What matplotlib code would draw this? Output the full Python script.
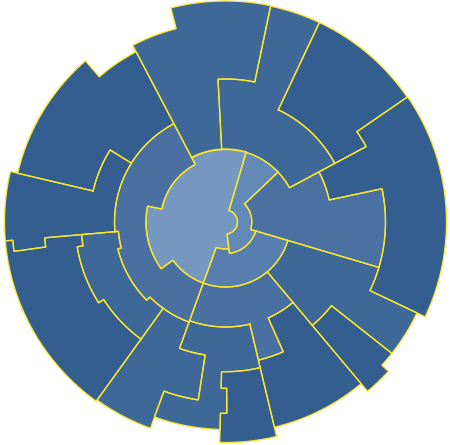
import numpy as np
import matplotlib
matplotlib.use("Agg")
import matplotlib.pyplot as plt

# ---- data: each region's outline as (angle in degrees clockwise from north, radius) corners ----
region_names = ["L", "I2", "R2a", "R2b", "C", "S0",
                "T", "T2", "SE1", "D", "SW1", "SW2",
                "U", "W1", "W2", "NE", "E", "SE2", "SE3", "SB"]

region_colors = {
    "L": "#7698c0", "I2": "#6389b7", "R2a": "#4b71a3", "R2b": "#587eaf",
    "C": "#4a70a2", "S0": "#4a70a2",
    "T": "#3e6898", "T2": "#3e6898", "SE1": "#3e6898", "D": "#3e6898",
    "SW1": "#3e6898", "SW2": "#3e6898",
    "U": "#335e8f", "W1": "#335e8f", "W2": "#335e8f", "NE": "#335e8f",
    "E": "#335e8f", "SE2": "#335e8f", "SE3": "#335e8f", "SB": "#335e8f",
}

L = [(16.5, 73), (16.5, 12), (173, 12), (173, 27), (200, 27), (200, 65), (234, 65),
     (234, 79.5), (281.5, 79.5), (281.5, 65), (332.3, 65), (332.3, 73), (376.5, 73)]
I2 = [(16.5, 12), (16.5, 72.5), (46.5, 72.5), (46.5, 26.3), (106.5, 26.3), (106.5, 31.5),
      (173, 31.5), (173, 12), (16.5, 12)]
R2a = [(46.5, 26.3), (46.5, 72.5), (61.8, 72.5), (61.8, 106), (78, 106), (78, 160),
       (106.5, 160), (106.5, 26.3), (46.5, 26.3)]
R2b = [(106.5, 31.5), (106.5, 65), (200, 65), (200, 27), (173, 27), (173, 31.5), (106.5, 31.5)]
C = [(200, 65), (200, 106.5), (225.2, 106.5), (225.2, 111), (256, 111), (256, 107.5),
     (265, 107.5), (265, 111), (332.3, 111), (332.3, 65), (281.5, 65), (281.5, 79.5),
     (234, 79.5), (234, 65), (200, 65)]
S0 = [(140, 65), (140, 105), (156, 105), (156, 142), (166.6, 142), (166.6, 105),
      (200, 105), (200, 65), (140, 65)]
T = [(332.3, 72.5), (332.3, 199.5), (345.7, 199.5), (345.7, 221), (371.8, 221),
     (371.8, 143), (357, 143), (357, 72.5), (332.3, 72.5)]
T2 = [(357, 72.5), (357, 143), (371.8, 143), (371.8, 220.5), (385.2, 220.5), (385.2, 124),
      (421.8, 124), (421.8, 72.5), (357, 72.5)]
SE1 = [(106.5, 65), (106.5, 160), (115.4, 160), (115.4, 212), (128.3, 212), (128.3, 135),
       (140, 135), (140, 65), (106.5, 65)]
D = [(215.8, 106.5), (215.8, 144.4), (237.5, 144.4), (237.5, 150.4), (260.5, 150.4),
     (260.5, 144.5), (265, 144.5), (265, 107.5), (256, 107.5), (256, 111), (225.2, 111),
     (225.2, 106.5), (215.8, 106.5)]
SW1 = [(166.6, 105), (166.6, 149.7), (181.5, 149.7), (181.5, 166.3), (179.6, 166.3),
       (179.6, 191.3), (181.5, 191.3), (181.5, 207.5), (200, 207.5), (200, 180),
       (188.7, 180), (188.7, 134.5), (200, 134.5), (200, 105), (166.6, 105)]
SW2 = [(200, 106.5), (200, 134.5), (188.7, 134.5), (188.7, 180), (200, 180), (200, 219.5),
       (215.8, 219.5), (215.8, 106.5), (200, 106.5)]
U = [(283.2, 136), (283.2, 213.5), (319, 213.5), (319, 192.3), (332.3, 192.3),
     (332.3, 111), (302, 111), (302, 136), (283.2, 136)]
W1 = [(265, 111), (265, 181.5), (262.1, 181.5), (262.1, 213.5), (265.1, 213.5),
      (265.1, 221), (283.2, 221), (283.2, 136), (302, 136), (302, 111), (265, 111)]
W2 = [(215.8, 144.4), (215.8, 221), (265.1, 221), (265.1, 213.5), (262.1, 213.5),
      (262.1, 181.5), (265, 181.5), (265, 144.5), (260.5, 144.5), (260.5, 150.4),
      (237.5, 150.4), (237.5, 144.4), (215.8, 144.4)]
NE = [(25.2, 124), (25.2, 220.5), (55.5, 220.5), (55.5, 159.5), (61.8, 159.5),
      (61.8, 124), (25.2, 124)]
E = [(55.5, 159.5), (55.5, 221), (115.4, 221), (115.4, 160), (78, 160), (78, 106),
     (61.8, 106), (61.8, 159.5), (55.5, 159.5)]
SE2 = [(128.3, 135), (128.3, 212), (132.5, 212), (132.5, 221), (140, 221), (140, 135),
       (128.3, 135)]
SE3 = [(140, 105), (140, 211), (166.6, 211), (166.6, 142), (156, 142), (156, 105), (140, 105)]
SB = [(166.6, 149.7), (166.6, 220.5), (181.5, 220.5), (181.5, 191.3), (179.6, 191.3),
      (179.6, 166.3), (181.5, 166.3), (181.5, 149.7), (166.6, 149.7)]

regions = {"L": L, "I2": I2, "R2a": R2a, "R2b": R2b, "C": C, "S0": S0, "T": T, "T2": T2,
           "SE1": SE1, "D": D, "SW1": SW1, "SW2": SW2, "U": U, "W1": W1, "W2": W2,
           "NE": NE, "E": E, "SE2": SE2, "SE3": SE3, "SB": SB}

R_MAX = 222
EDGE = "#fae62d"


def densify(verts):
    ts, rs = [], []
    for (t0, r0), (t1, r1) in zip(verts[:-1], verts[1:]):
        if r0 == r1:
            n = max(2, int(abs(t1 - t0) / 0.5) + 1)
            tt = np.linspace(t0, t1, n)
            rr = np.full(n, r0)
        else:
            tt = np.array([t0, t1])
            rr = np.array([r0, r1])
        ts.extend(tt[:-1])
        rs.extend(rr[:-1])
    ts.append(verts[-1][0])
    rs.append(verts[-1][1])
    return np.deg2rad(ts), np.array(rs)


fig = plt.figure(figsize=(4.5, 4.45), dpi=100, facecolor="white")
ax = fig.add_axes([3.5 / 450, 1 / 445, 444 / 450, 444 / 445], projection="polar")
ax.set_theta_zero_location("N")
ax.set_theta_direction(-1)
ax.set_ylim(0, R_MAX)
ax.axis("off")

for name in region_names:
    th, rr = densify(regions[name])
    ax.fill(th, rr, facecolor=region_colors[name], edgecolor="none", zorder=1)

for name in region_names:
    th, rr = densify(regions[name])
    ax.plot(th, rr, color=EDGE, linewidth=0.95, solid_joinstyle="miter", zorder=2)

fig.savefig("out.png", dpi=100, facecolor="white")
